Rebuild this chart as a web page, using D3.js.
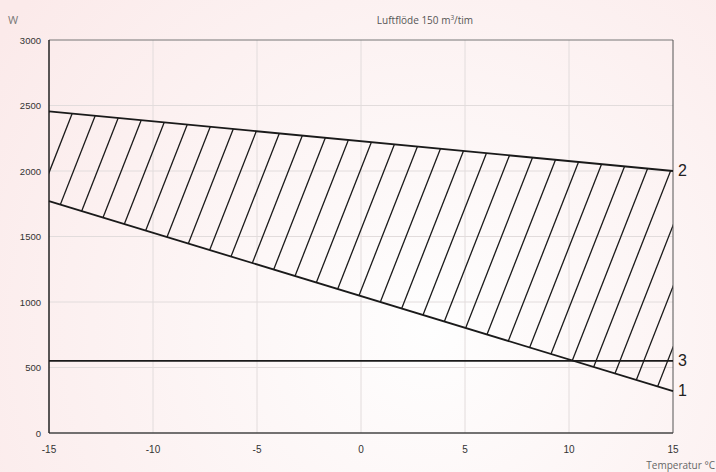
<!doctype html>
<html lang="en">
<head>
  <meta charset="utf-8">
  <title>Luftflöde 150 m3/tim</title>
  <style>
    body { margin: 0; }
    svg { display: block; }
  </style>
</head>
<body>
<svg id="chart" width="716" height="472"></svg>

<script src="https://d3js.org/d3.v7.min.js"></script>
<script>
    // data
    var temps = [-15, 15];
    var line1 = [1770, 320];   // lower edge of hatched band
    var line2 = [2455, 2000];  // upper edge of hatched band
    var line3 = [550, 550];    // horizontal line
    var xTicks = [-15, -10, -5, 0, 5, 10, 15];
    var yTicks = [0, 500, 1000, 1500, 2000, 2500, 3000];
    var lineLabels = ["1", "2", "3"];

    var width = 716, height = 472;
    var margin = {left: 49, right: 43, top: 40, bottom: 39};

    var svg = d3.select("#chart");

    var x = d3.scaleLinear().domain([-15, 15]).range([margin.left, width - margin.right]);
    var y = d3.scaleLinear().domain([0, 3000]).range([height - margin.bottom, margin.top]);

    // pinkish background
    var defs = svg.append("defs");
    var grad = defs.append("radialGradient").attr("id", "bg")
        .attr("gradientUnits", "userSpaceOnUse")
        .attr("cx", 430).attr("cy", 330).attr("r", 520);
    grad.append("stop").attr("offset", "0%").attr("stop-color", "#fefefe");
    grad.append("stop").attr("offset", "100%").attr("stop-color", "#fbeaea");
    svg.append("rect").attr("width", width).attr("height", height).attr("fill", "url(#bg)");

    // grid
    svg.append("g").selectAll("line").data(xTicks.slice(1, -1)).join("line")
        .attr("x1", d => x(d)).attr("x2", d => x(d))
        .attr("y1", y(3000)).attr("y2", y(0))
        .attr("stroke", "#e2dcdc").attr("stroke-width", 1);
    svg.append("g").selectAll("line").data(yTicks.slice(1, -1)).join("line")
        .attr("y1", d => y(d)).attr("y2", d => y(d))
        .attr("x1", x(-15)).attr("x2", x(15))
        .attr("stroke", "#e2dcdc").attr("stroke-width", 1);

    // hatched band between line 1 and line 2
    var band = temps.map((t, i) => [t, line1[i], line2[i]]);
    var area = d3.area().x(d => x(d[0])).y0(d => y(d[1])).y1(d => y(d[2]));
    defs.append("clipPath").attr("id", "bandclip").append("path").attr("d", area(band));

    var step = 23.88, slope = 2.55;
    var x0 = 72.3, yRef = 113.2;
    var hatch = d3.range(-12, 30).map(k => x0 + k * step);
    svg.append("g").attr("clip-path", "url(#bandclip)")
        .selectAll("line").data(hatch).join("line")
        .attr("x1", d => d + (yRef - y(3000)) / slope).attr("y1", y(3000))
        .attr("x2", d => d + (yRef - y(0)) / slope).attr("y2", y(0))
        .attr("stroke", "#1a1a1a").attr("stroke-width", 1.3);

    // frame
    svg.append("line").attr("x1", x(-15)).attr("x2", x(15)).attr("y1", y(3000)).attr("y2", y(3000))
        .attr("stroke", "#777").attr("stroke-width", 1);
    svg.append("line").attr("x1", x(15)).attr("x2", x(15)).attr("y1", y(3000)).attr("y2", y(0))
        .attr("stroke", "#555").attr("stroke-width", 1);
    svg.append("line").attr("x1", x(-15)).attr("x2", x(15)).attr("y1", y(0)).attr("y2", y(0))
        .attr("stroke", "#444").attr("stroke-width", 1.5);
    svg.append("line").attr("x1", x(-15)).attr("x2", x(-15)).attr("y1", y(3000)).attr("y2", y(0))
        .attr("stroke", "#222").attr("stroke-width", 1.5);

    // the three lines
    var lineGen = d3.line().x(d => x(d[0])).y(d => y(d[1]));
    [line1, line2, line3].forEach(function(vals) {
        svg.append("path")
            .attr("d", lineGen(temps.map((t, i) => [t, vals[i]])))
            .attr("fill", "none").attr("stroke", "#1a1a1a").attr("stroke-width", 1.8);
    });

    // line labels at right end
    var ends = [line1[1], line2[1], line3[1]];
    svg.append("g").selectAll("text").data(lineLabels).join("text")
        .attr("x", x(15) + 5).attr("y", (d, i) => y(ends[i]) + 5)
        .attr("font-family", "Liberation Sans, Arial, sans-serif")
        .attr("font-size", 16).attr("fill", "#222")
        .text(d => d);

    // tick labels
    svg.append("g").selectAll("text").data(yTicks).join("text")
        .attr("x", x(-15) - 8).attr("y", d => y(d) + 3.5)
        .attr("text-anchor", "end")
        .attr("font-family", "Liberation Sans, Arial, sans-serif")
        .attr("font-size", 9.5).attr("fill", "#333")
        .text(d => d);
    svg.append("g").selectAll("text").data(xTicks).join("text")
        .attr("x", d => x(d)).attr("y", y(0) + 20)
        .attr("text-anchor", "middle")
        .attr("font-family", "Liberation Sans, Arial, sans-serif")
        .attr("font-size", 10).attr("fill", "#333")
        .text(d => d);

    // titles
    svg.append("text").attr("x", 8).attr("y", 24)
        .attr("font-family", "Open Sans, sans-serif").attr("font-size", 11).attr("fill", "#777")
        .text("W");
    var title = svg.append("text").attr("x", 425).attr("y", 24).attr("text-anchor", "middle")
        .attr("font-family", "Open Sans, sans-serif").attr("font-size", 10).attr("fill", "#555");
    title.append("tspan").text("Luftflöde 150 m");
    title.append("tspan").attr("font-size", 6.5).attr("dy", -4).text("3");
    title.append("tspan").attr("dy", 4).text("/tim");
    svg.append("text").attr("x", 715).attr("y", 469).attr("text-anchor", "end")
        .attr("font-family", "Open Sans, sans-serif").attr("font-size", 10).attr("fill", "#666")
        .text("Temperatur °C");
</script>
</body>
</html>
